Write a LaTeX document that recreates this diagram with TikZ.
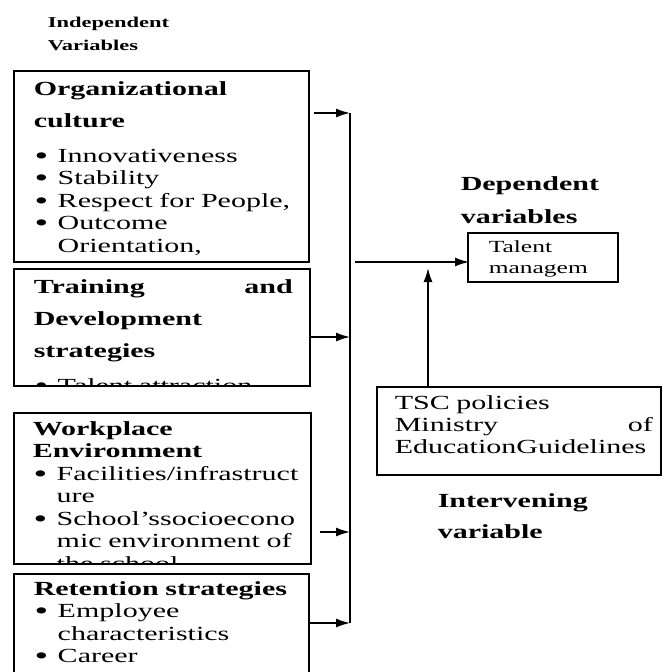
\documentclass[tikz,border=0pt]{standalone}
\usepackage{fontspec}
\setmainfont{Liberation Serif}[FakeStretch=1.5]
\usetikzlibrary{arrows.meta}
\usetikzlibrary{positioning}

% bullet line with hanging indent (break lines with \newline)
\newcommand{\ivitem}[1]{\par\noindent\hangindent=24pt\hangafter=1%
  \hbox to 24pt{\hskip1pt\raisebox{-2pt}{\scalebox{1.3}{\textbullet}}\hfil}#1\par}
\newcommand{\ivgap}{\par\vspace{12.5pt}}

\begin{document}
\begin{tikzpicture}[x=1pt,y=-1pt,>={Latex[length=14pt,width=9pt]},line width=1.5pt,
                    varbox/.style={draw, rectangle, anchor=north west, inner sep=0pt},
                    boxtext/.style={anchor=base west, inner sep=0pt, text width=#1,
                                    font=\fontsize{20}{22.5}\selectfont},
                    varlabel/.style={anchor=base west, inner sep=0pt, text width=200pt,
                                     align=left, font=\bfseries\fontsize{20}{32}\selectfont}]
  \clip (0,0) rectangle (662,672);
  % headings
  \node[varlabel, font=\bfseries\fontsize{15}{23}\selectfont] (indep) at (47,27) {Independent\\Variables};
  \node[varlabel, font=\bfseries\fontsize{20}{33}\selectfont] (dep) at (460,190) {Dependent\\variables};
  \node[varlabel, font=\bfseries\fontsize{20}{31}\selectfont] (inter) at (437,507) {Intervening\\variable};
  % boxes
  \node[varbox, minimum width=295pt, minimum height=191pt] (culture) at (13,70) {};
  \node[varbox, minimum width=296pt, minimum height=117pt] (training) at (13,268) {};
  \node[varbox, minimum width=297pt, minimum height=151pt] (workplace) at (13,412) {};
  \node[varbox, minimum width=295pt, minimum height=140pt] (retention) at (13,573) {};
  \node[varbox, minimum width=150pt, minimum height=49pt] (talent) at (467,232) {};
  \node[varbox, minimum width=284pt, minimum height=88pt] (tsc) at (376,386) {};
  % box texts, cut off at the box edge
  \begin{scope}
    \clip (culture.north west) rectangle (culture.south east);
    \node[boxtext=280pt] (culturetext) at (33,95)
      {\textbf{Organizational\\[9.5pt]culture}\ivgap
       \ivitem{Innovativeness}\ivitem{Stability}\ivitem{Respect for People,}\ivitem{Outcome\newline Orientation,}};
  \end{scope}
  \begin{scope}
    \clip (training.north west) rectangle (training.south east);
    \node[boxtext=280pt] (trainingtext) at (33,293)
      {\makebox[259pt][s]{\textbf{Training\hfill and}}\\[9.5pt]\textbf{Development}\\[9.5pt]\textbf{strategies}\ivgap
       \ivitem{Talent attraction}};
  \end{scope}
  \begin{scope}
    \clip (workplace.north west) rectangle (workplace.south east);
    \node[boxtext=285pt] (workplacetext) at (32,435)
      {\textbf{Workplace\\Environment}
       \ivitem{Facilities/infrastruct\newline ure}\ivitem{School’ssocioecono\newline mic environment of\newline the school}};
  \end{scope}
  \begin{scope}
    \clip (retention.north west) rectangle (retention.south east);
    \node[boxtext=280pt] (retentiontext) at (33,595)
      {\textbf{Retention strategies}
       \ivitem{Employee\newline characteristics}\ivitem{Career}};
  \end{scope}
  \node[boxtext=130pt, font=\fontsize{17}{21}\selectfont] (talenttext) at (488,252) {Talent\\managem};
  \node[boxtext=260pt, font=\fontsize{20}{22}\selectfont] (tsctext) at (394,409)
    {TSC policies\\\makebox[258pt][s]{Ministry\hfill of}\\EducationGuidelines};
  % connectors
  \coordinate (top) at (350,113);
  \coordinate (mid) at (350,262);
  \coordinate (jtwo) at (350,337);
  \coordinate (jthree) at (350,532);
  \coordinate (bot) at (350,623);
  \coordinate (up) at (428,268);
  \draw (top) -- (bot);
  \draw[->] ([xshift=4pt]culture.east |- top) -- (top);
  \draw[->] (training.east |- jtwo) -- (jtwo);
  \draw[->] ([xshift=8pt]workplace.east |- jthree) -- (jthree);
  \draw[->] (retention.east |- bot) -- (bot);
  \draw[->] ([xshift=5pt]mid) -- ([xshift=2pt]talent.west |- mid);
  \draw[->] (tsc.north -| up) -- (up);
\end{tikzpicture}
\end{document}
